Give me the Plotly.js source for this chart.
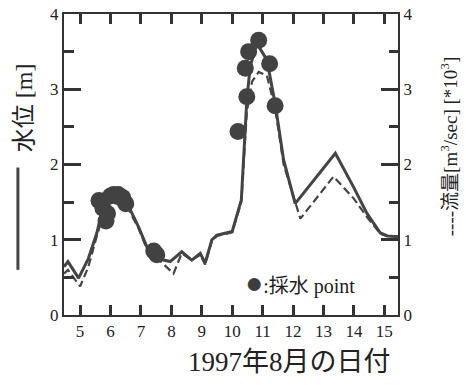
<!DOCTYPE html>
<html>
<head>
<meta charset="utf-8">
<script src="https://cdn.plot.ly/plotly-3.0.1.min.js"></script>
<style>html,body{margin:0;padding:0;background:#fff;}#chart{width:466px;height:385px;}</style>
</head>
<body>
<div id="chart"></div>
<script>
// 水位 (water level, solid line, left axis)
var levelDays = [4.47, 4.6, 4.95, 5.27, 5.55, 5.7, 5.85, 6.0, 6.2, 6.4, 6.6, 6.92, 7.19, 7.47, 7.74, 7.96, 8.34, 8.67, 8.95, 9.11, 9.33, 9.5, 10.0, 10.04, 10.3, 10.48, 10.59, 10.81, 11.14, 11.41, 11.69, 12.07, 13.39, 13.99, 14.43, 14.87, 15.1, 15.45];
var levels    = [0.64, 0.71, 0.49, 0.75, 1.09, 1.35, 1.5, 1.55, 1.5, 1.45, 1.44, 1.17, 0.91, 0.80, 0.73, 0.71, 0.84, 0.73, 0.82, 0.69, 1.00, 1.06, 1.11, 1.17, 1.53, 2.86, 3.30, 3.61, 3.39, 2.81, 2.06, 1.48, 2.15, 1.70, 1.35, 1.09, 1.05, 1.04];
// 流量 (discharge ×10^3 m3/sec, dashed line, right axis)
var flowDays = [4.47, 4.6, 5.0, 5.27, 5.55, 5.85, 6.0, 6.2, 6.4, 6.6, 6.92, 7.19, 7.47, 7.74, 8.07, 8.34, 8.67, 8.95, 9.11, 9.33, 9.5, 10.0, 10.3, 10.48, 10.65, 10.87, 11.14, 11.41, 11.69, 12.24, 13.33, 13.99, 14.43, 14.87, 15.1, 15.45];
var flows    = [0.55, 0.60, 0.38, 0.64, 1.05, 1.45, 1.50, 1.48, 1.42, 1.40, 1.15, 0.88, 0.78, 0.68, 0.55, 0.82, 0.73, 0.80, 0.67, 0.98, 1.05, 1.10, 1.50, 2.70, 3.10, 3.23, 3.18, 2.75, 2.00, 1.28, 1.84, 1.55, 1.30, 1.08, 1.05, 1.05];
// 採水 point (sampling points)
var sampleDays   = [5.62, 5.75, 5.85, 5.9, 6.0, 6.1, 6.25, 6.4, 6.5, 7.42, 7.52, 10.19, 10.48, 10.43, 10.54, 10.87, 11.23, 11.41];
var sampleLevels = [1.52, 1.42, 1.25, 1.35, 1.58, 1.60, 1.60, 1.56, 1.48, 0.85, 0.80, 2.44, 2.90, 3.28, 3.50, 3.65, 3.34, 2.78];
var dayTicks = [5, 6, 7, 8, 9, 10, 11, 12, 13, 14, 15];

var ink = '#333333';
var fontFam = 'Liberation Serif, "Noto Sans CJK JP", serif';

var traces = [
  {x: flowDays, y: flows, yaxis: 'y2', mode: 'lines', line: {color: '#444', width: 2.2, dash: '8px,4px'}},
  {x: levelDays, y: levels, mode: 'lines', line: {color: '#444', width: 3}},
  {x: sampleDays, y: sampleLevels, mode: 'markers', marker: {size: 17, color: '#424242'}}
];

var layout = {
  width: 466, height: 385,
  margin: {l: 64, r: 68, t: 14, b: 70},
  showlegend: false,
  font: {family: fontFam, color: '#222', size: 17},
  xaxis: {
    range: [4.47, 15.45], tickvals: dayTicks,
    ticks: 'inside', ticklen: 10, tickwidth: 3, tickcolor: ink,
    showline: true, linewidth: 2, linecolor: ink, mirror: 'ticks',
    showgrid: false, zeroline: false
  },
  yaxis: {
    range: [0, 4], dtick: 1, ticks: 'inside', ticklen: 17, tickwidth: 3, tickcolor: ink,
    minor: {dtick: 0.5, ticks: 'inside', ticklen: 10, tickwidth: 3, tickcolor: ink, showgrid: false},
    showline: true, linewidth: 2, linecolor: ink, showgrid: false, zeroline: false
  },
  yaxis2: {
    range: [0, 4], dtick: 1, overlaying: 'y', side: 'right',
    ticks: 'inside', ticklen: 17, tickwidth: 3, tickcolor: ink,
    minor: {dtick: 0.5, ticks: 'inside', ticklen: 9, tickwidth: 3, tickcolor: ink, showgrid: false},
    showline: true, linewidth: 2, linecolor: ink, showgrid: false, zeroline: false
  },
  shapes: [
    {type: 'line', xref: 'paper', yref: 'paper', x0: -0.138, x1: -0.138, y0: 0.15, y1: 0.49, line: {color: '#444', width: 3}}
  ],
  annotations: [
    {xref: 'paper', yref: 'paper', x: -0.12, y: 0.69, text: '水位 [m]', textangle: -90, showarrow: false,
     xanchor: 'center', yanchor: 'middle', font: {size: 24, family: fontFam, color: '#222'}},
    {xref: 'paper', yref: 'paper', x: 1.155, y: 0.56, text: '----流量[m<sup>3</sup>/sec] [*10<sup>3</sup>]', textangle: -90, showarrow: false,
     xanchor: 'center', yanchor: 'middle', font: {size: 19, family: fontFam, color: '#222'}},
    {xref: 'paper', yref: 'paper', x: 0.674, y: -0.155, text: '1997年8月の日付', showarrow: false,
     xanchor: 'center', yanchor: 'middle', font: {size: 27, family: fontFam, color: '#222'}},
    {xref: 'paper', yref: 'paper', x: 0.535, y: 0.108, text: '<span style="font-size:30px;color:#3d3d3d">●</span>:採水 point', showarrow: false,
     xanchor: 'left', yanchor: 'middle', font: {size: 20, family: fontFam, color: '#222'}}
  ]
};

Plotly.newPlot('chart', traces, layout, {displayModeBar: false});
</script>
</body>
</html>
